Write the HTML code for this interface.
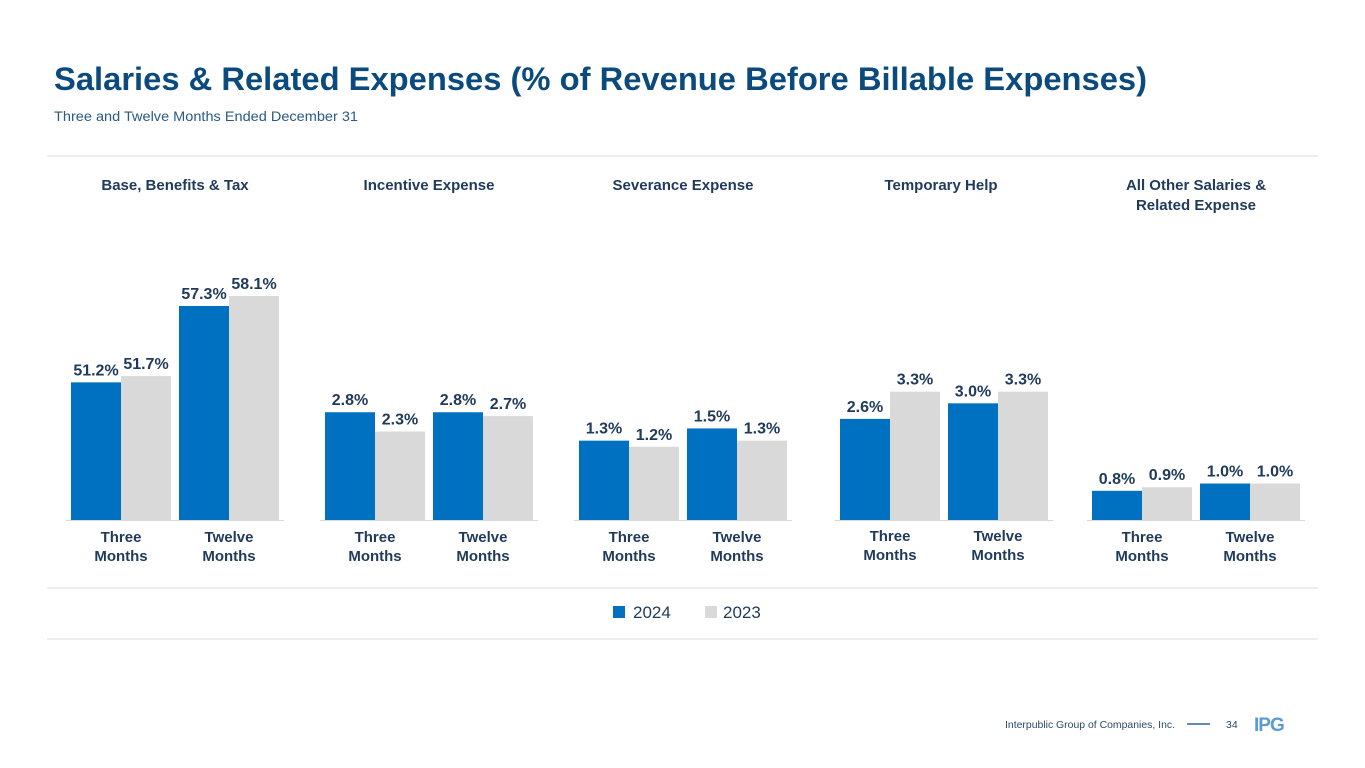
<!DOCTYPE html>
<html><head><meta charset="utf-8"><style>
body{margin:0;background:#fff;}
svg{display:block;font-family:"Liberation Sans",sans-serif;}
</style></head><body>
<svg id="c" width="1365" height="768">
<text x="54" y="90" font-size="32.5" font-weight="bold" fill="#0b4a7d" textLength="1093" lengthAdjust="spacingAndGlyphs">Salaries &amp; Related Expenses (% of Revenue Before Billable Expenses)</text>
<text x="54" y="121" font-size="14" fill="#2a5a86" textLength="304" lengthAdjust="spacingAndGlyphs">Three and Twelve Months Ended December 31</text>
<line x1="47" y1="156" x2="1318" y2="156" stroke="#ddd"/>
<line x1="47" y1="588" x2="1318" y2="588" stroke="#ddd"/>
<line x1="47" y1="639" x2="1318" y2="639" stroke="#ddd"/>
<g id="plots"></g>
<g>
<rect x="613" y="606" width="12" height="12" fill="#0070C0"/>
<text x="633" y="618" font-size="17" fill="#1f3a5a">2024</text>
<rect x="705" y="606" width="12" height="12" fill="#D9D9D9"/>
<text x="723" y="618" font-size="17" fill="#1f3a5a">2023</text>
</g>
<text x="1005" y="728" font-size="10.5" fill="#2a4a6a" textLength="170" lengthAdjust="spacingAndGlyphs">Interpublic Group of Companies, Inc.</text>
<line x1="1187" y1="724" x2="1210" y2="724" stroke="#2a6aa0" stroke-width="1.5"/>
<text x="1226" y="728" font-size="10.5" fill="#2a4a6a">34</text>
<text x="1254" y="731" font-size="19" font-weight="bold" fill="#5b9bd5" letter-spacing="-1">IPG</text>
</svg>
<script>
const panelTitles=[["Base, Benefits & Tax"],["Incentive Expense"],["Severance Expense"],["Temporary Help"],["All Other Salaries &","Related Expense"]];
const categories=["Three Months","Twelve Months"];
const values2024=[[51.2,57.3],[2.8,2.8],[1.3,1.5],[2.6,3.0],[0.8,1.0]];
const values2023=[[51.7,58.1],[2.3,2.7],[1.2,1.3],[3.3,3.3],[0.9,1.0]];
const axisMin=[40.2,0,0,0,0];
const axisMax=[58.1,5.82,3.67,5.76,6.14];
const NS="http://www.w3.org/2000/svg";
const g=document.getElementById("plots");
const panelX=[71,325,579,840,1092];
const titleCx=[175,429,683,941,1196];
const base=520,plotH=224,bw=50,groupStep=108;
function mk(t,a,txt){const e=document.createElementNS(NS,t);for(const k in a)e.setAttribute(k,a[k]);if(txt!==undefined)e.textContent=txt;g.appendChild(e);return e;}
for(let p=0;p<5;p++){
  const y=v=>base-(v-axisMin[p])/(axisMax[p]-axisMin[p])*plotH;
  panelTitles[p].forEach((t,i)=>{
    const e=mk("text",{x:titleCx[p],y:190+i*20,"font-size":15,"font-weight":"bold",fill:"#1f3a5a","text-anchor":"middle"},t);
    
    
  });
  const ln=mk("line",{x1:panelX[p]-5,x2:panelX[p]+groupStep+2*bw+5,y1:base+0.5,y2:base+0.5,stroke:"#d9d9d9"});
  
  
  for(let c=0;c<2;c++){
    const gx=panelX[p]+c*groupStep;
    [[values2024[p][c],"#0070C0",0,"2024"],[values2023[p][c],"#D9D9D9",bw,"2023"]].forEach(([v,col,off,s])=>{
      const ty=y(v);
      const r=mk("rect",{x:gx+off,y:ty,width:bw,height:base-ty,fill:col});
      
      
      const t=mk("text",{x:gx+off+bw/2,y:ty-7,"font-size":16,"font-weight":"bold",fill:"#1f3a5a","text-anchor":"middle"},v.toFixed(1)+"%");
      
      
    });
    categories[c].split(" ").forEach((w,i)=>{
      const t=mk("text",{x:gx+bw,y:542+i*19+(p===3?-1:0),"font-size":15,"font-weight":"bold",fill:"#1f3a5a","text-anchor":"middle"},w);
      
      
    });
  }
}
</script>
</body></html>
